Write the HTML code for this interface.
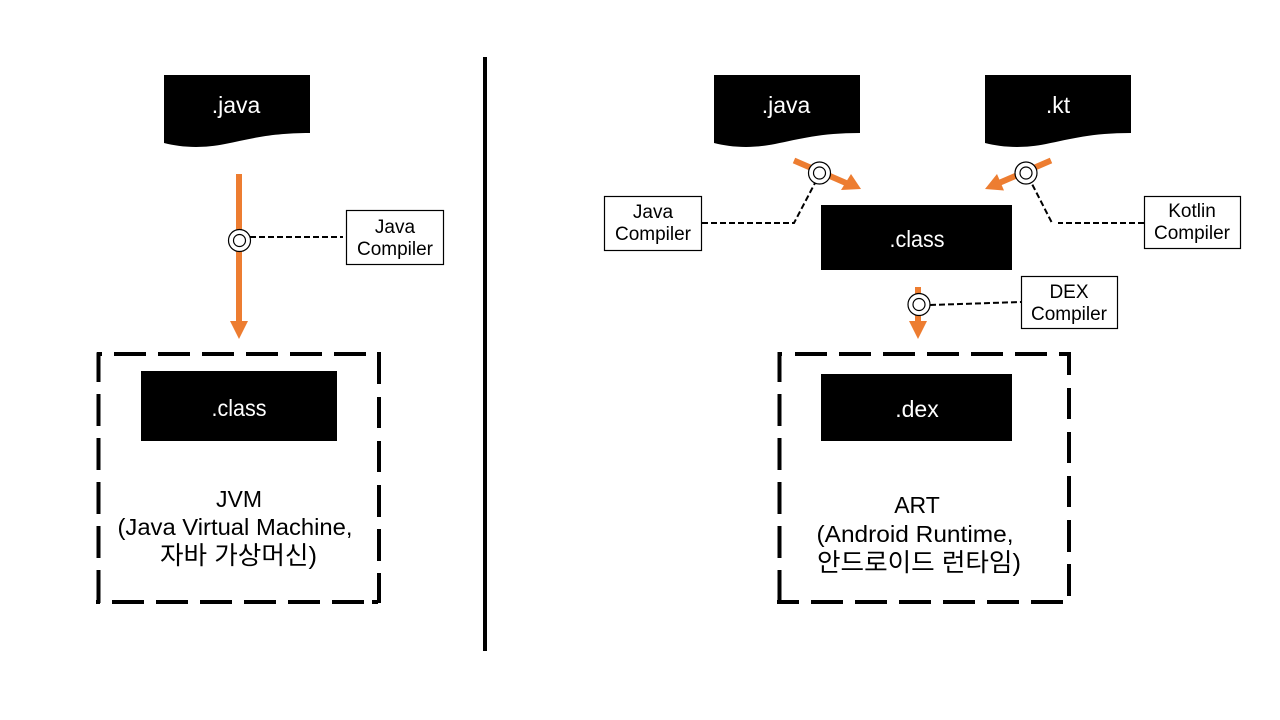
<!DOCTYPE html>
<html><head><meta charset="utf-8"><style>
html,body{margin:0;padding:0;background:#fff;width:1280px;height:720px;overflow:hidden}
svg{display:block}
text{font-family:"Liberation Sans","Noto Sans CJK KR",sans-serif;text-anchor:middle}
.w{fill:#fff;font-size:23px}
.k{fill:#000;font-size:19px}
.b{fill:#000;font-size:23px}
.l{fill:#000;font-size:25px}
.d{stroke:#000;stroke-width:4;fill:none}
.o{stroke:#ED7D31;stroke-width:6;fill:none}
.h{fill:#ED7D31}
.t{stroke:#000;stroke-width:2;fill:none;stroke-dasharray:6 3}
.c{fill:#fff;stroke:#000;stroke-width:1.2}
.r{fill:#fff;stroke:#000;stroke-width:1.2}
</style></head><body>
<svg width="1280" height="720" viewBox="0 0 1280 720" xmlns="http://www.w3.org/2000/svg">
<rect x="483" y="57" width="4" height="594" fill="#000"/>

<!-- left -->
<path d="M164 75H310V133C270 133 250 139 225 144C200 149 180 147 164 143Z"/>
<text class="w" x="236" y="113">.java</text>
<path class="o" d="M239 174V322"/>
<path class="h" d="M230 321H248L239 339Z"/>
<path class="t" d="M250 237H343"/>
<circle class="c" cx="239.5" cy="240.5" r="11"/><circle class="c" cx="239.5" cy="240.5" r="6"/>
<rect class="r" x="346.5" y="210.5" width="97" height="54"/>
<text class="k" x="395" y="233">Java</text>
<text class="k" x="395" y="255">Compiler</text>

<path class="d" d="M96.700 354H102M114 354H146M158 354H190M202 354H234M246 354H278M290 354H322M334 354H366M377 354H381"/>
<path class="d" d="M379 352V384M379 397V428M379 441V472M379 485V517M379 529V561M379 573V603"/>
<path class="d" d="M96 602H100M112 602H144M156 602H188M200 602H232M244 602H276M288 602H320M332 602H364M372 602H378"/>
<path class="d" d="M98.500 353V382M98.500 394V426M98.500 438V470M98.500 482V514M98.500 526V558M98.500 570V603"/>
<rect x="141" y="371" width="196" height="70"/>
<text class="w" x="239" y="416" textLength="55" lengthAdjust="spacingAndGlyphs">.class</text>
<text class="b" x="239" y="507">JVM</text>
<text class="b" x="235" y="535" textLength="235" lengthAdjust="spacingAndGlyphs">(Java Virtual  Machine,</text>
<text class="l" x="238.500" y="564" textLength="157" lengthAdjust="spacingAndGlyphs">자바 가상머신)</text>

<!-- right -->
<path d="M714 75H860V133C820 133 800 139 775 144C750 149 730 147 714 143Z"/>
<text class="w" x="786" y="113">.java</text>
<path d="M985 75H1131V133C1091 133 1071 139 1046 144C1021 149 1001 147 985 143Z"/>
<text class="w" x="1058" y="113">.kt</text>

<path class="o" d="M794 160.500L846 183"/>
<path class="h" d="M851 174L861 189L841 190Z"/>
<path class="t" d="M702 223H794L815 183"/>
<circle class="c" cx="819.500" cy="173" r="11"/><circle class="c" cx="819.500" cy="173" r="6"/>
<rect class="r" x="604.500" y="196.500" width="97" height="54"/>
<text class="k" x="653" y="218">Java</text>
<text class="k" x="653" y="240">Compiler</text>

<path class="o" d="M1051 160.500L999 183"/>
<path class="h" d="M997 174L985 189L1004 190.500Z"/>
<path class="t" d="M1144 223H1058"/>
<path class="t" d="M1051.500 222L1031 182"/>
<circle class="c" cx="1026" cy="173" r="11"/><circle class="c" cx="1026" cy="173" r="6"/>
<rect class="r" x="1144.500" y="196.500" width="96" height="52"/>
<text class="k" x="1192" y="217">Kotlin</text>
<text class="k" x="1192" y="239">Compiler</text>

<rect x="821" y="205" width="191" height="65"/>
<text class="w" x="917" y="247" textLength="55" lengthAdjust="spacingAndGlyphs">.class</text>

<path class="o" d="M918 287V322"/>
<path class="h" d="M909 321H927L918 339Z"/>
<path class="t" d="M930 305L1021 302"/>
<circle class="c" cx="919" cy="304.500" r="11"/><circle class="c" cx="919" cy="304.500" r="6"/>
<rect class="r" x="1021.500" y="276.500" width="96" height="52"/>
<text class="k" x="1069" y="298">DEX</text>
<text class="k" x="1069" y="320">Compiler</text>

<path class="d" d="M777.500 354H782M795 354H827M839 354H871M883 354H915M927 354H959M971 354H1003M1015 354H1047M1059 354H1071"/>
<path class="d" d="M1069 352V375M1069 388V419M1069 432V463M1069 476V507M1069 520V552M1069 564V596"/>
<path class="d" d="M1063 602H1031M1019 602H987M975 602H943M931 602H899M887 602H855M843 602H811M799 602H777"/>
<path class="d" d="M779.500 352V382M779.500 394V426M779.500 438V470M779.500 482V514M779.500 526V558M779.500 570V604"/>
<rect x="821" y="374" width="191" height="67"/>
<text class="w" x="917" y="417">.dex</text>
<text class="b" x="917" y="513">ART</text>
<text class="b" x="915" y="542" textLength="197" lengthAdjust="spacingAndGlyphs">(Android  Runtime,</text>
<text class="l" x="919" y="571" textLength="204" lengthAdjust="spacingAndGlyphs">안드로이드 런타임)</text>
</svg>
</body></html>
